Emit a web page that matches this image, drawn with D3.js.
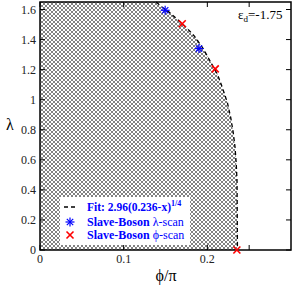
<!DOCTYPE html>
<html>
<head>
<meta charset="utf-8">
<script src="https://cdn.jsdelivr.net/npm/d3@7"></script>
<style>
  body { margin: 0; background: #fff; }
  svg text { font-family: "Liberation Serif", "Times New Roman", serif; }
</style>
</head>
<body>
<svg id="chart" width="294" height="287"></svg>
<script>
// boundary samples (phi/pi, lambda)
const fitX = [0, 0.139, 0.145, 0.155, 0.165, 0.175, 0.185, 0.195, 0.205, 0.212, 0.218, 0.224, 0.228, 0.231, 0.233, 0.2345, 0.2355, 0.236];
const fitL = [1.65, 1.65, 1.62, 1.58, 1.53, 1.48, 1.42, 1.34, 1.24, 1.17, 1.08, 0.98, 0.88, 0.78, 0.69, 0.58, 0.46, 0];
// slave-boson points
const lamScanX = [0.1496, 0.19];
const lamScanY = [1.595, 1.34];
const phiScanX = [0.170, 0.2095, 0.2353];
const phiScanY = [1.505, 1.205, 0];
const xTicks = [0, 0.1, 0.2];
const yTicks = [0, 0.2, 0.4, 0.6, 0.8, 1, 1.2, 1.4, 1.6];

const svg = d3.select("#chart");
const mL = 40, mR = 291, mT = 2, mB = 250;
const x = d3.scaleLinear().domain([0, 0.3]).range([mL, mR]);
const y = d3.scaleLinear().domain([0, 1.65]).range([mB, mT]);

// crosshatch pattern: thin diagonals with dots where they cross
const defs = svg.append("defs");
const pat = defs.append("pattern")
  .attr("id", "hatch")
  .attr("patternUnits", "userSpaceOnUse")
  .attr("width", 4).attr("height", 4);
pat.append("rect").attr("width", 4).attr("height", 4).attr("fill", "#fff");
pat.append("path")
  .attr("d", "M0,0L4,4M4,0L0,4")
  .attr("stroke", "#888").attr("stroke-width", 0.45);
[[0, 0], [4, 0], [0, 4], [4, 4], [2, 2]].forEach(p => {
  pat.append("rect").attr("x", p[0] - 0.6).attr("y", p[1] - 0.6)
    .attr("width", 1.2).attr("height", 1.2).attr("fill", "#000");
});

const pts = fitX.map((d, i) => [d, fitL[i]]);

// hatched region
const area = d3.area().x(d => x(d[0])).y0(y(0)).y1(d => y(d[1]));
svg.append("path")
  .attr("d", area(pts))
  .attr("fill", "url(#hatch)");

// dashed fit curve
const line = d3.line().x(d => x(d[0])).y(d => y(d[1]));
svg.append("path")
  .attr("d", line(pts.slice(1)))
  .attr("fill", "none")
  .attr("stroke", "#000")
  .attr("stroke-width", 1.3)
  .attr("stroke-dasharray", "4,3");

// frame
svg.append("rect")
  .attr("x", mL).attr("y", mT)
  .attr("width", mR - mL).attr("height", mB - mT)
  .attr("fill", "none").attr("stroke", "#000").attr("stroke-width", 1.5);

// ticks (inward, all four sides)
const tl = 5;
const tickG = svg.append("g").attr("stroke", "#000").attr("stroke-width", 1);
xTicks.concat([0.25]).forEach(t => {
  tickG.append("line").attr("x1", x(t)).attr("x2", x(t)).attr("y1", mB).attr("y2", mB - tl);
  tickG.append("line").attr("x1", x(t)).attr("x2", x(t)).attr("y1", mT).attr("y2", mT + tl);
});
yTicks.forEach(t => {
  tickG.append("line").attr("x1", mL).attr("x2", mL + tl).attr("y1", y(t)).attr("y2", y(t));
  tickG.append("line").attr("x1", mR).attr("x2", mR - tl).attr("y1", y(t)).attr("y2", y(t));
});

// tick labels
svg.append("g").selectAll("text").data(xTicks).join("text")
  .attr("x", d => x(d)).attr("y", 263)
  .attr("text-anchor", "middle")
  .attr("font-size", 12).attr("fill", "#222")
  .text(d => d3.format("")(d));
svg.append("g").selectAll("text").data(yTicks).join("text")
  .attr("x", 36).attr("y", d => y(d) + 4)
  .attr("text-anchor", "end")
  .attr("font-size", 12).attr("fill", "#222")
  .text(d => d3.format("")(d));

// axis titles
svg.append("text").attr("x", 10).attr("y", 130)
  .attr("text-anchor", "middle").attr("font-size", 16).text("λ");
svg.append("text").attr("x", 166).attr("y", 281)
  .attr("text-anchor", "middle").attr("font-size", 16).text("ϕ/π");

// epsilon label
const eps = svg.append("text").attr("x", 238).attr("y", 19).attr("font-size", 13);
eps.append("tspan").text("ε");
eps.append("tspan").attr("font-size", 9).attr("dy", 3).text("d");
eps.append("tspan").attr("dy", -3).text("=-1.75");

// markers
function star(g, cx, cy, r) {
  for (let k = 0; k < 4; k++) {
    const a = k * Math.PI / 4;
    g.append("line")
      .attr("x1", cx - r * Math.cos(a)).attr("y1", cy - r * Math.sin(a))
      .attr("x2", cx + r * Math.cos(a)).attr("y2", cy + r * Math.sin(a));
  }
}
function cross(g, cx, cy, r) {
  g.append("line").attr("x1", cx - r).attr("y1", cy - r).attr("x2", cx + r).attr("y2", cy + r);
  g.append("line").attr("x1", cx - r).attr("y1", cy + r).attr("x2", cx + r).attr("y2", cy - r);
}
const blueG = svg.append("g").attr("stroke", "#0000ff").attr("stroke-width", 1.2);
lamScanX.forEach((d, i) => star(blueG, x(d), y(lamScanY[i]), 4.5));
const redG = svg.append("g").attr("stroke", "#ff0000").attr("stroke-width", 1.6);
phiScanX.forEach((d, i) => cross(redG, x(d), y(phiScanY[i]), 3.5));

// legend
const lg = svg.append("g");
lg.append("rect").attr("x", 60).attr("y", 197).attr("width", 130).attr("height", 48).attr("fill", "#fff");
lg.append("line").attr("x1", 64).attr("x2", 78).attr("y1", 207).attr("y2", 207)
  .attr("stroke", "#000").attr("stroke-width", 1.3).attr("stroke-dasharray", "4,3");
star(lg.append("g").attr("stroke", "#0000ff").attr("stroke-width", 1.2), 70, 222, 4.5);
cross(lg.append("g").attr("stroke", "#ff0000").attr("stroke-width", 1.6), 70, 235, 3.5);

const t1 = lg.append("text").attr("x", 87).attr("y", 211).attr("font-size", 11.5)
  .attr("fill", "#0000ff").attr("font-weight", "bold");
t1.append("tspan").text("Fit: 2.96(0.236-x)");
t1.append("tspan").attr("font-size", 8).attr("dy", -5).text("1/4");

const t2 = lg.append("text").attr("x", 87).attr("y", 226).attr("font-size", 12).attr("fill", "#0000ff");
t2.append("tspan").attr("font-weight", "bold").text("Slave-Boson ");
t2.append("tspan").text("λ-scan");
const t3 = lg.append("text").attr("x", 87).attr("y", 239).attr("font-size", 12).attr("fill", "#0000ff");
t3.append("tspan").attr("font-weight", "bold").text("Slave-Boson ");
t3.append("tspan").text("ϕ-scan");
</script>
</body>
</html>
